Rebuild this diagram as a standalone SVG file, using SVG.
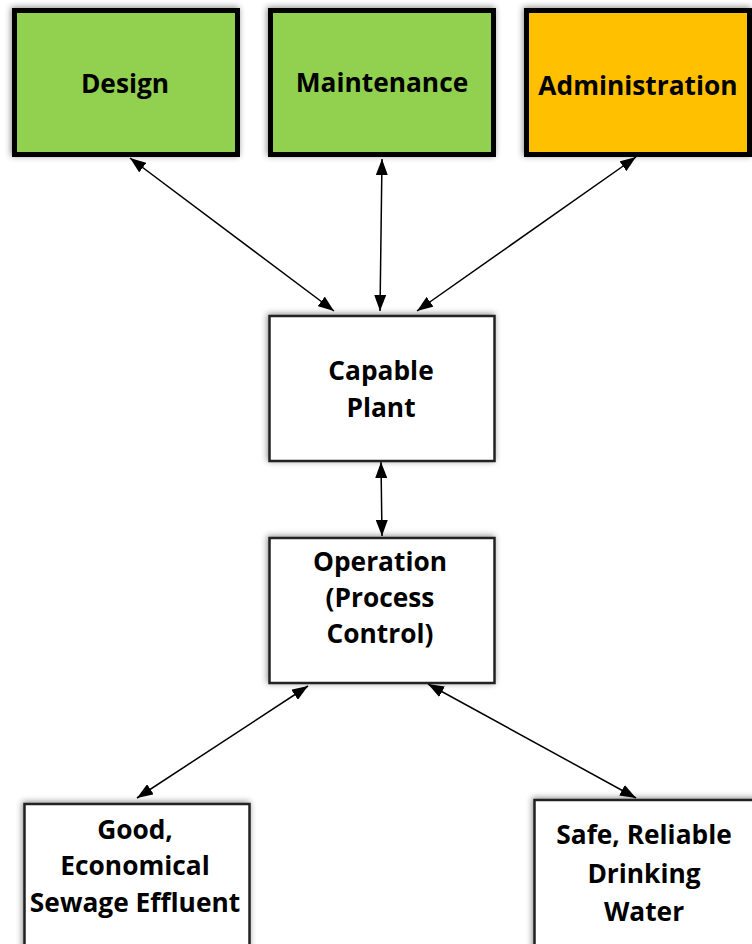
<svg xmlns="http://www.w3.org/2000/svg" width="752" height="944" viewBox="0 0 752 944">
<defs>
<style>
.t{font-family:"Open Sans","Liberation Sans",sans-serif;font-weight:bold;font-size:26.3px;fill:#000;text-anchor:middle}
.top{stroke:#000;stroke-width:5}
.box{fill:#fff;stroke:#222;stroke-width:2.5}
.c{stroke:#000;stroke-width:1.5;fill:none;marker-start:url(#ah);marker-end:url(#ah)}
</style>
<marker id="ah" viewBox="0 0 16 12" refX="16" refY="6" markerWidth="16" markerHeight="12" markerUnits="userSpaceOnUse" orient="auto-start-reverse">
<path d="M0,0 L16,6 L0,12 z" fill="#000"/>
</marker>
<filter id="sh" x="-10%" y="-10%" width="120%" height="120%">
<feDropShadow dx="-1" dy="-1" stdDeviation="3" flood-color="#000" flood-opacity="0.45"/>
</filter>
</defs>
<g id="connectors">
<line class="c" x1="130" y1="158" x2="334" y2="311"/>
<line class="c" x1="382" y1="159" x2="380" y2="311"/>
<line class="c" x1="636" y1="157" x2="417" y2="311"/>
<line class="c" x1="381" y1="462" x2="382" y2="536"/>
<line class="c" x1="308" y1="686" x2="137" y2="798"/>
<line class="c" x1="428" y1="684" x2="636" y2="798"/>
</g>
<g id="design">
<rect class="top" x="14.5" y="10.5" width="223" height="144" fill="#92D050" filter="url(#sh)"/>
<text class="t" x="125" y="93">Design</text>
</g>
<g id="maintenance">
<rect class="top" x="270.5" y="10.5" width="223" height="144" fill="#92D050" filter="url(#sh)"/>
<text class="t" x="382" y="92">Maintenance</text>
</g>
<g id="administration">
<rect class="top" x="526.5" y="10.5" width="223" height="144" fill="#FFC000" filter="url(#sh)"/>
<text class="t" x="638" y="95">Administration</text>
</g>
<g id="capable-plant">
<rect class="box" x="269.5" y="316" width="225" height="145" filter="url(#sh)"/>
<text class="t" x="381" y="380">Capable</text>
<text class="t" x="381" y="417">Plant</text>
</g>
<g id="operation">
<rect class="box" x="269.5" y="538" width="225" height="145" filter="url(#sh)"/>
<text class="t" x="380" y="571">Operation</text>
<text class="t" x="380" y="607">(Process</text>
<text class="t" x="380" y="643">Control)</text>
</g>
<g id="effluent">
<rect class="box" x="24.5" y="804" width="225" height="150" filter="url(#sh)"/>
<text class="t" x="135" y="839">Good,</text>
<text class="t" x="135" y="875">Economical</text>
<text class="t" x="135" y="912">Sewage Effluent</text>
</g>
<g id="water">
<rect class="box" x="534.5" y="800" width="225" height="150" filter="url(#sh)"/>
<text class="t" x="644" y="844">Safe, Reliable</text>
<text class="t" x="644" y="883">Drinking</text>
<text class="t" x="644" y="921">Water</text>
</g>
</svg>
